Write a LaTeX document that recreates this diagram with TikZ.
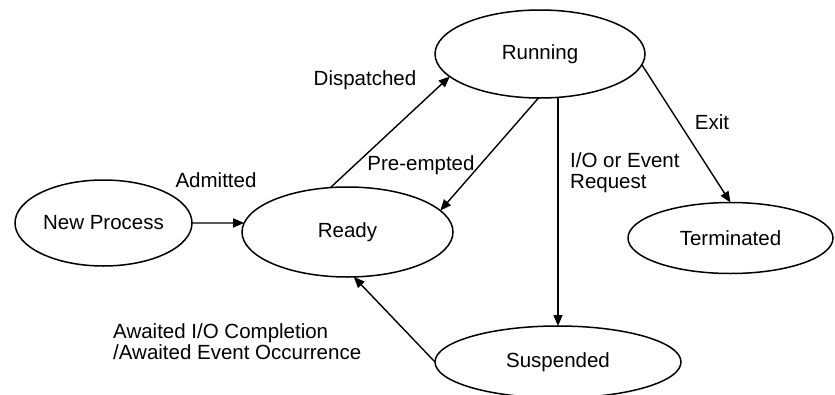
\documentclass[tikz,border=0pt]{standalone}
\usepackage{fontspec}
\setmainfont{Liberation Sans}
\usetikzlibrary{shapes.geometric,arrows.meta}
\begin{document}
\begin{tikzpicture}[x=1pt,y=-1pt,
  every node/.style={font=\fontsize{20.5}{21}\selectfont},
  state/.style={draw, ellipse, line width=1.5pt, inner sep=0pt, outer sep=0pt},
  arr/.style={line width=1.4pt, -{Triangle[length=11pt,width=9pt]}},
  lbl/.style={inner sep=0pt}]
\useasboundingbox (0,0) rectangle (835,394);
\node[state, minimum width=177pt, minimum height=86pt] (newproc) at (103.5,223) {New Process};
\node[state, minimum width=211pt, minimum height=90pt] (ready) at (347.5,232) {Ready};
\node[state, minimum width=210pt, minimum height=88pt] (running) at (540,54) {Running};
\node[state, minimum width=205pt, minimum height=71pt] (terminated) at (730.5,238) {Terminated};
\node[state, minimum width=246pt, minimum height=72pt] (suspended) at (558,362) {Suspended};

\draw[arr] (newproc.east) -- (ready.175);
\draw[arr] (ready.111) -- (running.194);
\draw[arr] (running.268) -- (ready.13);
\draw[arr] (running.south -| suspended.north) -- (suspended.north);
\draw[arr] (running.354) -- (terminated.north);
\draw[arr] (suspended.west) -- (ready.278);

\node[lbl] (admitted) at (216,180) {Admitted};
\node[lbl] (dispatched) at (365,80) {Dispatched};
\node[lbl] (preempted) at (421,165) {Pre-empted};
\node[lbl, anchor=west, align=left] (io) at (570,172.5) {I/O or Event\\Request};
\node[lbl] (exit) at (712,122) {Exit};
\node[lbl, anchor=west, align=left] (awaited) at (113,342) {Awaited I/O Completion\\/Awaited Event Occurrence};
\end{tikzpicture}
\end{document}
